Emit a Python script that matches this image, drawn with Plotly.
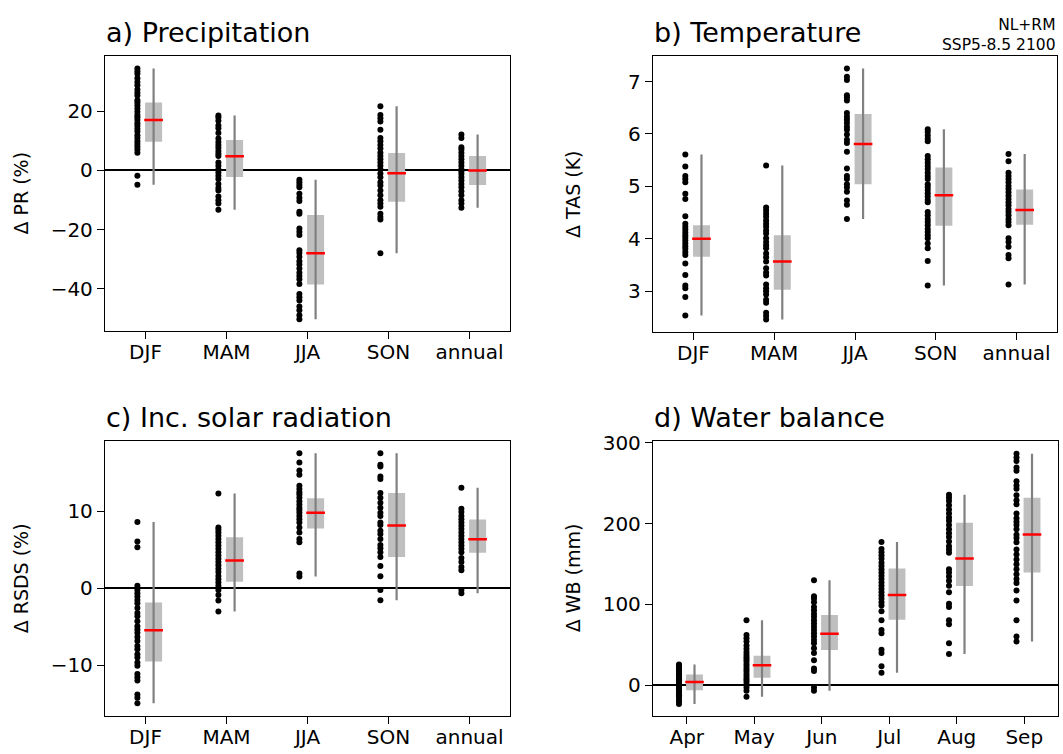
import plotly.graph_objects as go

W, H = 1063, 754

# ---------------- data ----------------
seasons = ["DJF", "MAM", "JJA", "SON", "annual"]
months = ["Apr", "May", "Jun", "Jul", "Aug", "Sep"]

pr_djf = [34.5, 33.6, 32.7, 31.2, 29.9, 28.8, 27.4, 26.3, 25.4, 23.8, 23.0, 22.1, 21.0, 19.9, 18.8, 18.0,
          17.1, 16.0, 15.1, 14.1, 13.2, 11.9, 11.0, 9.9, 9.0, 8.0, 7.1, 6.0, -1.8, -4.8]
pr_mam = [18.6, 17.9, 16.8, 15.2, 14.3, 12.7, 10.8, 9.6, 8.6, 7.7, 6.6, 5.7, 4.9, 2.7, 1.6, 0.4, -0.7,
          -1.8, -2.9, -4.6, -5.9, -6.8, -8.8, -10.1, -11.2, -13.3]
pr_jja = [-3.1, -4.0, -4.9, -5.7, -7.9, -9.2, -10.3, -14.0, -14.6, -19.6, -20.7, -21.8, -27.0, -27.9,
          -29.2, -30.7, -31.8, -33.2, -34.6, -35.7, -36.8, -38.4, -41.8, -42.9, -44.0, -46.0, -47.3, -49.0, -50.3]
pr_son = [21.7, 18.8, 17.7, 16.6, 13.8, 11.0, 9.9, 8.6, 7.4, 6.0, 4.9, 3.8, 2.7, 1.6, 0.4, -1.0, -2.3,
          -4.0, -5.1, -6.8, -8.4, -10.1, -11.2, -12.3, -14.6, -15.7, -16.6, -28.0]
pr_ann = [12.2, 11.0, 7.9, 7.1, 6.0, 4.9, 3.8, 2.7, 1.6, 0.4, -0.3, -1.2, -2.3, -3.4, -4.6, -5.7, -7.0,
          -8.4, -10.1, -11.2, -12.6]
pr_box_lo = [9.7, -2.2, -38.6, -10.6, -4.9]
pr_box_hi = [23.0, 10.3, -15.1, 5.9, 4.9]
pr_median = [17.1, 4.8, -28.0, -0.9, 0.0]

tas_djf = [5.61, 5.38, 5.20, 5.14, 5.08, 4.86, 4.76, 4.43, 4.29, 4.23, 4.18, 4.12, 4.07, 4.02, 3.97, 3.91,
           3.86, 3.81, 3.75, 3.69, 3.53, 3.31, 3.11, 3.06, 2.89, 2.54]
tas_mam = [5.40, 4.60, 4.54, 4.48, 4.42, 4.35, 4.29, 4.23, 4.16, 4.10, 4.01, 3.94, 3.88, 3.82, 3.72, 3.65,
           3.57, 3.44, 3.36, 3.30, 3.13, 3.06, 3.00, 2.94, 2.84, 2.78, 2.59, 2.53, 2.46]
tas_jja = [7.25, 7.09, 7.03, 6.74, 6.69, 6.64, 6.40, 6.33, 6.27, 6.21, 6.14, 6.08, 5.99, 5.89, 5.83, 5.66,
           5.34, 5.20, 5.14, 5.04, 4.98, 4.90, 4.73, 4.65, 4.38]
tas_son = [6.09, 6.04, 5.97, 5.91, 5.86, 5.58, 5.52, 5.45, 5.39, 5.33, 5.26, 5.20, 5.14, 5.04, 4.99, 4.93,
           4.87, 4.81, 4.74, 4.70, 4.51, 4.45, 4.38, 4.32, 4.26, 4.19, 4.13, 4.07, 4.01, 3.91, 3.82, 3.58, 3.11]
tas_ann = [5.62, 5.48, 5.26, 5.20, 5.14, 5.08, 5.01, 4.95, 4.89, 4.82, 4.76, 4.70, 4.64, 4.57, 4.51, 4.45,
           4.38, 4.32, 4.26, 4.01, 3.94, 3.85, 3.69, 3.63, 3.13]
tas_box_lo = [3.66, 3.03, 5.04, 4.25, 4.27]
tas_box_hi = [4.26, 4.07, 6.38, 5.36, 4.94]
tas_median = [4.00, 3.57, 5.81, 4.83, 4.55]

rsds_djf = [8.63, 6.07, 5.34, 0.34, -0.21, -0.64, -1.07, -1.50, -1.92, -2.56, -3.21, -3.63, -4.27, -4.91,
            -5.34, -5.77, -6.32, -6.84, -7.48, -7.91, -8.55, -8.97, -9.62, -10.04, -11.11, -11.54, -11.97,
            -13.76, -14.19, -14.9]
rsds_mam = [12.3, 7.91, 7.61, 7.26, 6.84, 6.41, 5.98, 5.56, 5.13, 4.70, 4.27, 3.85, 3.42, 2.99, 2.56, 2.14,
            1.62, 1.20, 0.77, 0.34, -0.21, -0.85, -1.58, -3.0]
rsds_jja = [17.55, 16.32, 15.30, 14.74, 13.33, 12.91, 12.48, 12.18, 11.75, 11.32, 10.90, 10.47, 10.17, 9.83,
            9.40, 8.97, 8.55, 7.91, 7.26, 6.41, 5.98, 1.92, 1.55]
rsds_son = [17.55, 16.03, 15.81, 14.53, 14.19, 12.39, 11.75, 11.11, 10.47, 9.83, 9.40, 8.55, 8.21, 7.48,
            7.05, 6.41, 5.64, 5.21, 4.70, 4.06, 2.91, 1.58, -0.21, -1.55]
rsds_ann = [13.05, 10.34, 9.91, 9.40, 8.97, 8.55, 8.12, 7.69, 7.26, 6.84, 6.41, 5.98, 5.56, 5.13, 4.70,
            3.93, 3.42, 2.78, 2.35, -0.21, -0.64]
rsds_box_lo = [-9.49, 0.85, 7.78, 4.06, 4.62]
rsds_box_hi = [-1.84, 6.62, 11.71, 12.39, 8.93]
rsds_median = [-5.43, 3.63, 9.83, 8.16, 6.37]

wb_apr = [25.6, 24.0, 22.4, 21.0, 19.5, 18.0, 16.7, 15.0, 13.4, 12.0, 10.2, 9.0, 7.3, 6.0, 4.5, 3.0, 1.2,
          0.0, -1.6, -3.0, -4.9, -6.0, -7.7, -9.0, -11.0, -12.5, -14.2, -17.1, -19.9, -23.2]
wb_may = [80.5, 62.2, 58.1, 54.1, 49.2, 45.1, 41.1, 37.8, 34.6, 31.7, 28.9, 25.6, 22.4, 19.5, 16.7, 13.4,
          10.2, 7.3, 4.5, 1.2, -2.8, -6.9, -14.2]
wb_jun = [130.0, 110.2, 106.9, 102.8, 96.7, 92.7, 88.6, 84.6, 80.5, 76.4, 72.4, 68.3, 64.2, 60.2, 56.1,
          52.0, 45.9, 39.8, 30.9, 20.7, 17.5, -2.8, -6.9]
wb_jul = [177.2, 168.7, 164.6, 160.6, 156.5, 151.6, 147.6, 143.5, 139.4, 135.4, 131.3, 127.2, 123.2, 119.1,
          115.0, 111.0, 106.9, 102.8, 98.8, 91.5, 80.5, 68.3, 64.2, 43.9, 39.8, 23.6, 15.4]
wb_aug = [235.8, 232.1, 228.0, 222.8, 217.5, 212.6, 207.7, 203.7, 198.4, 193.1, 188.2, 183.3, 178.0, 172.0,
          167.9, 163.8, 143.5, 139.4, 134.6, 129.3, 123.2, 115.0, 100.8, 96.7, 80.5, 75.6, 52.0, 38.6]
wb_sep = [286.6, 281.7, 277.6, 269.5, 265.4, 252.4, 247.2, 243.1, 235.0, 228.9, 224.0, 212.6, 206.5, 202.4,
          198.4, 193.1, 186.2, 182.1, 176.8, 167.9, 161.8, 155.7, 149.6, 143.5, 137.4, 131.3, 126.4, 117.1,
          104.9, 80.5, 60.2, 54.1]
wb_box_lo = [-6.1, 9.3, 43.5, 80.9, 122.8, 139.4]
wb_box_hi = [13.4, 36.6, 87.0, 144.3, 201.2, 232.1]
wb_median = [4.1, 24.8, 63.8, 111.8, 156.9, 186.6]

# ---------------- styling / layout ----------------
FONT = "DejaVu Sans"
BOX_C = "rgb(191,191,191)"
WHISK_C = "rgb(128,128,128)"

panels = [
    dict(title="a) Precipitation", ylabel="Δ PR (%)", cats=seasons,
         members=[pr_djf, pr_mam, pr_jja, pr_son, pr_ann], lo=pr_box_lo, hi=pr_box_hi, med=pr_median,
         px=(105, 510), py=(47, 325), yrange=[-54.2, 38.6], ticks=[-40, -20, 0, 20], zero=True,
         off=0.1, hw=0.105),
    dict(title="b) Temperature", ylabel="Δ TAS (K)", cats=seasons,
         members=[tas_djf, tas_mam, tas_jja, tas_son, tas_ann], lo=tas_box_lo, hi=tas_box_hi, med=tas_median,
         px=(653, 1057), py=(47, 326), yrange=[2.23, 7.48], ticks=[3, 4, 5, 6, 7], zero=False,
         off=0.1, hw=0.105),
    dict(title="c) Inc. solar radiation", ylabel="Δ RSDS (%)", cats=seasons,
         members=[rsds_djf, rsds_mam, rsds_jja, rsds_son, rsds_ann], lo=rsds_box_lo, hi=rsds_box_hi,
         med=rsds_median, px=(105, 510), py=(437, 715), yrange=[-16.5, 19.1], ticks=[-10, 0, 10], zero=True,
         off=0.1, hw=0.105),
    dict(title="d) Water balance", ylabel="Δ WB (mm)", cats=months,
         members=[wb_apr, wb_may, wb_jun, wb_jul, wb_aug, wb_sep], lo=wb_box_lo, hi=wb_box_hi, med=wb_median,
         px=(653, 1058), py=(437, 715), yrange=[-37.5, 302.0], ticks=[0, 100, 200, 300], zero=True,
         off=0.115, hw=0.125),
]


def fmt(v):
    s = f"{v:g}"
    return s.replace("-", "−")


fig = go.Figure()
annotations = []

for k, p in enumerate(panels):
    n = k + 1
    xa = "x" if n == 1 else f"x{n}"
    ya = "y" if n == 1 else f"y{n}"
    cats = p["cats"]
    idx = list(range(len(cats)))
    off, hw = p["off"], p["hw"]

    # boxes
    fig.add_trace(go.Bar(
        x=[i + off for i in idx], y=[h - l for l, h in zip(p["lo"], p["hi"])], base=p["lo"],
        width=2 * hw, marker=dict(color=BOX_C, line=dict(width=0)),
        xaxis=xa, yaxis=ya, showlegend=False, hoverinfo="skip"))

    # whiskers (min to max of members)
    wx, wy = [], []
    for i, m in zip(idx, p["members"]):
        wx += [i + off, i + off, None]
        wy += [min(m), max(m), None]
    fig.add_trace(go.Scatter(x=wx, y=wy, mode="lines", line=dict(color=WHISK_C, width=2.2),
                             xaxis=xa, yaxis=ya, showlegend=False, hoverinfo="skip"))

    # medians
    mx, my = [], []
    for i, md in zip(idx, p["med"]):
        mx += [i + off - hw * 1.1, i + off + hw * 1.1, None]
        my += [md, md, None]
    fig.add_trace(go.Scatter(x=mx, y=my, mode="lines", line=dict(color="red", width=2.5),
                             xaxis=xa, yaxis=ya, showlegend=False, hoverinfo="skip"))

    # member dots
    dx, dy = [], []
    for i, m in zip(idx, p["members"]):
        dx += [i - off] * len(m)
        dy += m
    fig.add_trace(go.Scatter(x=dx, y=dy, mode="markers", marker=dict(color="black", size=6, line=dict(width=0)),
                             xaxis=xa, yaxis=ya, showlegend=False))

    x0, x1 = p["px"][0] / W, p["px"][1] / W
    y0, y1 = 1 - p["py"][1] / H, 1 - p["py"][0] / H
    axis_common = dict(showline=True, mirror=True, linecolor="black", linewidth=1.3,
                       ticks="outside", ticklen=7, tickwidth=1.3, tickcolor="black",
                       showgrid=False, tickfont=dict(family=FONT, size=20, color="black"))
    xkey = "xaxis" if n == 1 else f"xaxis{n}"
    ykey = "yaxis" if n == 1 else f"yaxis{n}"
    fig.update_layout(**{
        xkey: dict(domain=[x0, x1], range=[-0.5, len(cats) - 0.5], tickmode="array",
                   tickvals=idx, ticktext=cats, anchor=ya, zeroline=False, ticklabelstandoff=-4,
                   **axis_common),
        ykey: dict(domain=[y0, y1], range=p["yrange"], tickmode="array", tickvals=p["ticks"],
                   ticktext=[fmt(t) for t in p["ticks"]], anchor=xa,
                   zeroline=p["zero"], zerolinecolor="black", zerolinewidth=1.5,
                   layer="above traces", **axis_common),
    })

    # panel title
    annotations.append(dict(text=p["title"], xref="paper", yref="paper", x=(p["px"][0] - 1) / W,
                            y=1 - (p["py"][0] - 6) / H, xanchor="left", yanchor="bottom", showarrow=False,
                            font=dict(family=FONT, size=27, color="black")))
    # y label
    lx = 21 if p["px"][0] < 300 else 573
    annotations.append(dict(text=p["ylabel"], xref="paper", yref="paper", x=lx / W,
                            y=1 - (p["py"][0] + p["py"][1]) / 2 / H, xanchor="center", yanchor="middle",
                            textangle=-90, showarrow=False, font=dict(family=FONT, size=19, color="black")))

annotations.append(dict(text="NL+RM<br>SSP5-8.5 2100", xref="paper", yref="paper", x=1058 / W, y=1 - 4 / H,
                        xanchor="right", yanchor="top", align="right", showarrow=False,
                        font=dict(family=FONT, size=15.5, color="black")))

fig.update_layout(width=W, height=H, margin=dict(l=0, r=0, t=0, b=0), barmode="overlay",
                  plot_bgcolor="white", paper_bgcolor="white", annotations=annotations,
                  font=dict(family=FONT, color="black"), showlegend=False)

fig.write_html("out.html", config={"displayModeBar": False},
               post_script="document.body.style.margin='0';document.body.style.overflow='hidden';")
